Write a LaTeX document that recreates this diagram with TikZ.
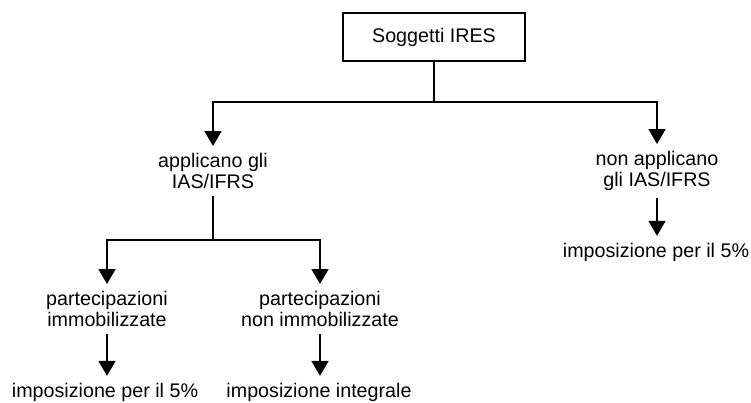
\documentclass[tikz,border=0pt]{standalone}
\usepackage{fontspec}
\setmainfont{Liberation Sans}
\usetikzlibrary{arrows.meta}
\begin{document}
\begin{tikzpicture}[x=1pt,y=-1pt,
  lbl/.style={align=center,font=\fontsize{19.7}{21.5}\selectfont,inner sep=0pt,outer sep=7pt},
  box/.style={draw,line width=1.5pt,minimum width=182pt,minimum height=48pt,inner sep=0pt,font=\fontsize{19.7}{21.5}\selectfont},
  arr/.style={-{Triangle[width=17pt,length=15pt]},line width=1.8pt},
  ln/.style={line width=1.5pt}]
\useasboundingbox (0,0) rectangle (751,403);
\node[box] (top) at (434,37) {Soggetti IRES};
\node[lbl] (A) at (213,171) {applicano gli\\IAS/IFRS};
\node[lbl] (B) at (657,171) {non applicano\\gli IAS/IFRS};
\node[lbl] (B1) at (656,252) {imposizione per il 5\%};
\node[lbl] (C) at (107,309) {partecipazioni\\immobilizzate};
\node[lbl] (D) at (320,309) {partecipazioni\\non immobilizzate};
\node[lbl] (C1) at (105,392) {imposizione per il 5\%};
\node[lbl] (D1) at (319,392) {imposizione integrale};
\coordinate (j1) at (434,102);
\coordinate (j2) at (213,240);
\draw[ln] (top.south) -- (j1);
\draw[arr] (j1) -| (A.north);
\draw[arr] (j1) -| (B.north);
\draw[ln] (A.south) -- (j2);
\draw[arr] (j2) -| (C.north);
\draw[arr] (j2) -| (D.north);
\draw[arr] (C.south) -- (C.south |- C1.north);
\draw[arr] (D.south) -- (D.south |- D1.north);
\draw[arr] (B.south) -- (B.south |- B1.north);
\end{tikzpicture}
\end{document}
